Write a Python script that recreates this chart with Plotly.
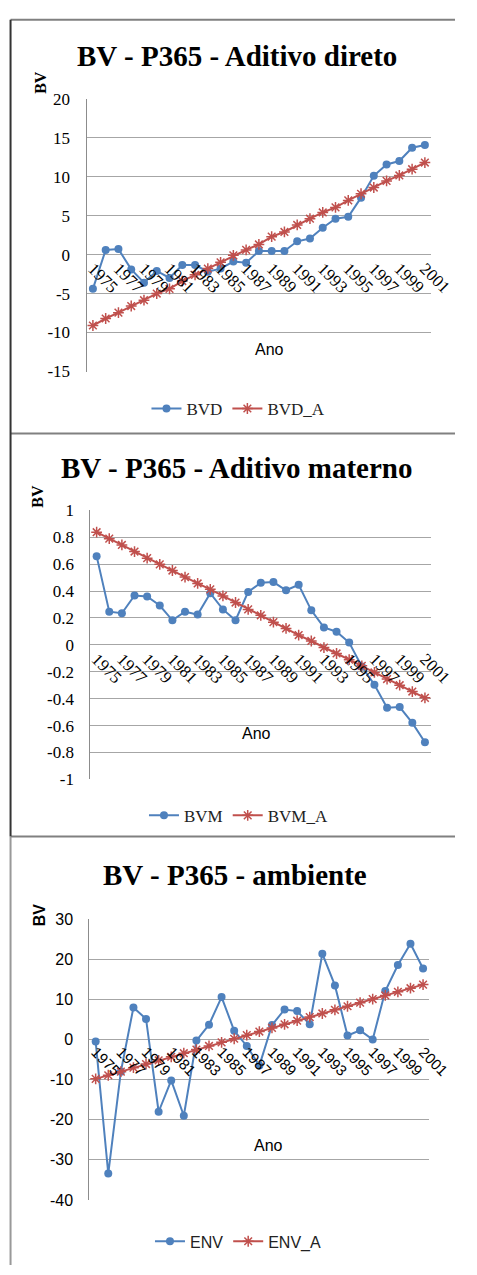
import plotly.graph_objects as go

W, H = 477, 1275

years = list(range(1975, 2002))
tick_years = years[::2]

bvd = [-4.4, 0.6, 0.7, -1.9, -3.6, -2.1, -3.0, -1.35, -1.35, -2.2, -1.8, -0.9, -1.05,
       0.45, 0.45, 0.45, 1.7, 2.05, 3.45, 4.6, 4.85, 7.3, 10.1, 11.55, 12.0, 13.7, 14.05]
bvd_a = [-9.1, -8.2, -7.45, -6.6, -5.85, -5.0, -4.4, -3.4, -2.6, -1.8, -1.0, -0.1, 0.6,
         1.3, 2.3, 2.9, 3.8, 4.6, 5.4, 6.05, 6.95, 7.8, 8.6, 9.45, 10.15, 10.95, 11.8]

bvm = [0.66, 0.247, 0.235, 0.367, 0.36, 0.293, 0.183, 0.247, 0.225, 0.384, 0.264, 0.183,
       0.394, 0.462, 0.467, 0.406, 0.447, 0.257, 0.13, 0.098, 0.017, -0.16, -0.296,
       -0.467, -0.462, -0.58, -0.724]
bvm_a = [0.838, 0.79, 0.743, 0.694, 0.645, 0.599, 0.553, 0.504, 0.457, 0.413, 0.364,
         0.315, 0.264, 0.22, 0.169, 0.122, 0.073, 0.029, -0.02, -0.064, -0.11, -0.156,
         -0.205, -0.254, -0.30, -0.347, -0.394]

env = [-0.5, -33.4, -8.0, 8.0, 5.15, -18.0, -10.2, -19.0, -0.25, 3.7, 10.6, 2.2, -1.6,
       -6.5, 3.6, 7.5, 7.1, 3.8, 21.4, 13.5, 1.0, 2.3, 0.0, 12.1, 18.6, 23.9, 17.7]
env_a = [-9.8, -8.9, -8.0, -7.0, -6.1, -5.2, -4.3, -3.4, -2.5, -1.6, -0.7, 0.2, 1.1,
         2.0, 2.9, 3.8, 4.7, 5.6, 6.5, 7.4, 8.3, 9.2, 10.1, 11.0, 11.9, 12.8, 13.7]

# y tick labels per panel
yticks_1 = [-15, -10, -5, 0, 5, 10, 15, 20]
ylabels_1 = ["-15", "-10", "-5", "0", "5", "10", "15", "20"]
yticks_2 = [-1, -0.8, -0.6, -0.4, -0.2, 0, 0.2, 0.4, 0.6, 0.8, 1]
ylabels_2 = ["-1", "-0.8", "-0.6", "-0.4", "-0.2", "0", "0.2", "0.4", "0.6", "0.8", "1"]
yticks_3 = [-40, -30, -20, -10, 0, 10, 20, 30]
ylabels_3 = ["-40", "-30", "-20", "-10", "0", "10", "20", "30"]

titles = ["BV - P365 - Aditivo direto", "BV - P365 - Aditivo materno", "BV - P365 - ambiente"]
names = [("BVD", "BVD_A"), ("BVM", "BVM_A"), ("ENV", "ENV_A")]
series = [(bvd, bvd_a), (bvm, bvm_a), (env, env_a)]
yticks = [(yticks_1, ylabels_1), (yticks_2, ylabels_2), (yticks_3, ylabels_3)]

BLUE = "#4F81BD"
RED = "#C0504D"
SERIF = "Liberation Serif"
SANS = "Liberation Sans"


def fx(px):
    return px / W


def fy(py):
    return 1 - py / H


panels = [
    dict(l=89, r=452, t=91, b=368, ty=48, tx=247, ly=406, lx=249, ay=346, ax=282,
         bvx=41, bvy=74, font=SERIF, tickfont=17, xtickfont=17, legfont=17, stand=12),
    dict(l=93, r=452, t=509, b=782, ty=466, tx=247, ly=819, lx=249, ay=735, ax=268,
         bvx=38, bvy=495, font=SERIF, tickfont=17, xtickfont=17, legfont=17, stand=12),
    dict(l=92, r=450, t=924, b=1209, ty=879, tx=245, ly=1251, lx=249, ay=1154, ax=281,
         bvx=39, bvy=920, font=SANS, tickfont=16, xtickfont=15, legfont=16, stand=12),
]

fig = go.Figure()
annotations = []
shapes = []
layout = {}

for i, (p, (s1, s2), (n1, n2), (tv, tt), title) in enumerate(
        zip(panels, series, names, yticks, titles)):
    k = "" if i == 0 else str(i + 1)
    kl = str(i + 4)  # label-only x axis placed on the zero line
    leg = "legend" + k
    ymin, ymax = tv[0], tv[-1]
    fig.add_trace(go.Scatter(
        x=years, y=s1, name=n1, mode="lines+markers", xaxis="x" + k, yaxis="y" + k,
        line=dict(color=BLUE, width=2), marker=dict(symbol="circle", size=8, color=BLUE),
        legend=leg))
    fig.add_trace(go.Scatter(
        x=years, y=s2, name=n2, mode="lines+markers", xaxis="x" + k, yaxis="y" + k,
        line=dict(color=RED, width=2),
        marker=dict(symbol="asterisk-open", size=9, color=RED, line=dict(color=RED, width=1.5)),
        legend=leg))
    # empty helper trace so the label axis on the zero line gets drawn
    fig.add_trace(go.Scatter(
        x=tick_years, y=[None] * len(tick_years), xaxis="x" + kl, yaxis="y" + k,
        mode="markers", showlegend=False, hoverinfo="skip"))

    ybot, ytop = fy(p["b"]), fy(p["t"])
    zero_pos = ybot + (0 - ymin) / (ymax - ymin) * (ytop - ybot)

    layout["xaxis" + k] = dict(
        domain=[fx(p["l"]), fx(p["r"])], range=[1974.5, 2001.5], anchor="y" + k,
        showticklabels=False, showgrid=False, zeroline=False, showline=False, ticks="",
        fixedrange=True)
    layout["xaxis" + kl] = dict(
        domain=[fx(p["l"]), fx(p["r"])], range=[1974.5, 2001.5],
        overlaying="x" + k, anchor="free", position=zero_pos,
        tickmode="array", tickvals=tick_years, ticktext=[str(y) for y in tick_years],
        tickangle=45, showgrid=False, zeroline=False, showline=False, ticks="",
        ticklabelstandoff=0,
        tickfont=dict(family=p["font"], size=p["xtickfont"], color="#000000"),
        fixedrange=True)
    layout["yaxis" + k] = dict(
        domain=[ybot, ytop], range=[ymin, ymax],
        tickmode="array", tickvals=tv, ticktext=tt,
        anchor="x" + k, showgrid=True, gridcolor="#A6A6A6", gridwidth=1,
        zeroline=False, showline=True, linecolor="#8C8C8C", linewidth=1, ticks="",
        tickfont=dict(family=p["font"], size=p["tickfont"], color="#000000"),
        ticklabelstandoff=p["stand"], fixedrange=True)
    layout[leg] = dict(
        x=fx(p["lx"]), y=fy(p["ly"]), xanchor="center", yanchor="middle",
        orientation="h", itemwidth=30, bgcolor="rgba(0,0,0,0)",
        font=dict(family=p["font"], size=p["legfont"], color="#222222"))

    annotations.append(dict(
        text="<b>" + title + "</b>", x=fx(p["tx"]), y=fy(p["ty"]), xref="paper", yref="paper",
        xanchor="center", yanchor="middle", showarrow=False,
        font=dict(family=SERIF, size=29, color="#000000")))
    annotations.append(dict(
        text="<b>BV</b>", x=fx(p["bvx"]), y=fy(p["bvy"]), xref="paper", yref="paper",
        xanchor="center", yanchor="middle", showarrow=False, textangle=-90,
        font=dict(family=p["font"], size=16, color="#000000")))
    annotations.append(dict(
        text="Ano", x=fx(p["ax"]), y=fy(p["ay"]), xref="paper", yref="paper",
        xanchor="center", yanchor="middle", showarrow=False,
        font=dict(family=SANS, size=16, color="#000000")))

for top in (11, 431, 840):
    shapes.append(dict(type="line", xref="paper", yref="paper", x0=fx(9), x1=1,
                       y0=fy(top), y1=fy(top), line=dict(color="#808080", width=2)))
shapes.append(dict(type="line", xref="paper", yref="paper", x0=fx(9), x1=fx(9),
                   y0=fy(11), y1=fy(840), line=dict(color="#333333", width=2)))
shapes.append(dict(type="line", xref="paper", yref="paper", x0=fx(9), x1=fx(9),
                   y0=fy(840), y1=0, line=dict(color="#999999", width=2)))

fig.update_layout(
    width=W, height=H, margin=dict(l=0, r=0, t=0, b=0),
    paper_bgcolor="#FFFFFF", plot_bgcolor="rgba(0,0,0,0)",
    annotations=annotations, shapes=shapes, **layout)

fig.write_html("out.html", config={"displayModeBar": False},
               post_script="document.body.style.margin='0';document.body.style.overflow='hidden';")
